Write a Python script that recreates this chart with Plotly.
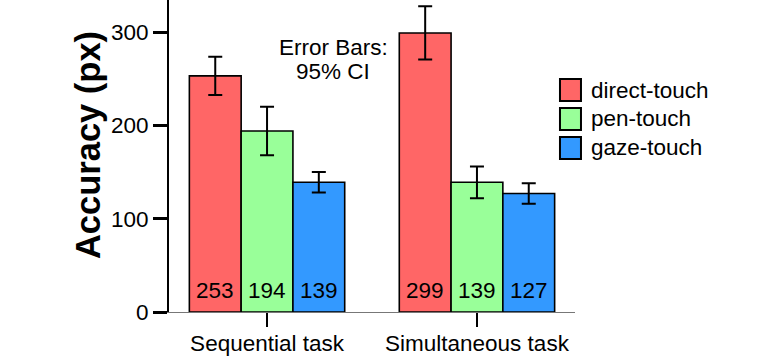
import plotly.graph_objects as go

# ---- data ----
categories = ["Sequential task", "Simultaneous task"]
series_names = ["direct-touch", "pen-touch", "gaze-touch"]
direct_touch = [253, 299]
pen_touch = [194, 139]
gaze_touch = [139, 127]
direct_ci = [20.5, 28.5]
pen_ci = [26, 17]
gaze_ci = [11, 11]
y_ticks = [0, 100, 200, 300]

values = [direct_touch, pen_touch, gaze_touch]
cis = [direct_ci, pen_ci, gaze_ci]
colors = ["#FF6666", "#99FF99", "#3399FF"]

FONT = "Liberation Sans, Arial, Helvetica, sans-serif"
FS = 22.5
BARGAP = 0.26
x_pos = list(range(len(categories)))

fig = go.Figure()
for name, vals, ci, col in zip(series_names, values, cis, colors):
    fig.add_trace(go.Bar(
        x=x_pos, y=vals, name=name,
        marker=dict(color=col, line=dict(color="black", width=1.6)),
        error_y=dict(type="data", array=ci, visible=True,
                     color="black", thickness=2, width=7),
        showlegend=False,
    ))

annotations = []
shapes = []
# value labels at bar bottoms
n = len(series_names)
bar_w = (1 - BARGAP) / n
for j, vals in enumerate(values):
    for i, v in enumerate(vals):
        annotations.append(dict(
            x=x_pos[i] + (j - (n - 1) / 2) * bar_w, y=0, xref="x", yref="y",
            text=str(v), showarrow=False, yanchor="bottom", yshift=7,
            font=dict(family=FONT, size=FS, color="black")))

# custom legend
leg_y0 = 0.7115
leg_step = 0.0929
for k, (name, col) in enumerate(zip(series_names, colors)):
    yc = leg_y0 - k * leg_step
    shapes.append(dict(type="rect", xref="paper", yref="paper",
                       xsizemode="pixel", ysizemode="pixel",
                       xanchor=0.963, yanchor=yc,
                       x0=0, x1=21, y0=-11, y1=11,
                       fillcolor=col, line=dict(color="black", width=2)))
    annotations.append(dict(xref="paper", yref="paper", x=1.0345, y=yc,
                            xanchor="left", yanchor="middle", text=name,
                            showarrow=False,
                            font=dict(family=FONT, size=FS, color="black")))

# error bar note (two lines, tight spacing)
for txt, yy in [("Error Bars:", 0.849), ("95% CI", 0.772)]:
    annotations.append(dict(xref="paper", yref="paper", x=0.404, y=yy,
                            xanchor="center", yanchor="middle",
                            text=txt, showarrow=False,
                            font=dict(family=FONT, size=FS, color="black")))
# y title
annotations.append(dict(xref="paper", yref="paper", x=-0.1995, y=0.535,
                        xanchor="center", yanchor="middle", textangle=-90,
                        text="<b>Accuracy (px)</b>", showarrow=False,
                        font=dict(family=FONT, size=34.5, color="black")))

fig.update_layout(
    width=770, height=359,
    margin=dict(l=169, r=195, t=0, b=47),
    paper_bgcolor="white", plot_bgcolor="white",
    font=dict(family=FONT, size=FS, color="black"),
    barmode="group", bargap=BARGAP, bargroupgap=0,
    annotations=annotations, shapes=shapes,
    xaxis=dict(tickvals=x_pos, ticktext=categories, range=[-0.467, 1.467],
               showline=True, linecolor="#777777", linewidth=1,
               ticks="outside", ticklen=14, tickwidth=2, tickcolor="black",
               ticklabelstandoff=-3,
               showgrid=False, zeroline=False,
               tickfont=dict(family=FONT, size=FS, color="black")),
    yaxis=dict(range=[0, 334.3], tickvals=y_ticks,
               showline=True, linecolor="black", linewidth=2,
               ticks="outside", ticklen=14, tickwidth=2.5, tickcolor="black",
               showgrid=False, zeroline=False,
               tickfont=dict(family=FONT, size=FS, color="black")),
)

fig.write_html("out.html", config={"displayModeBar": False},
               post_script="document.body.style.margin='0';document.body.style.overflow='hidden';")
